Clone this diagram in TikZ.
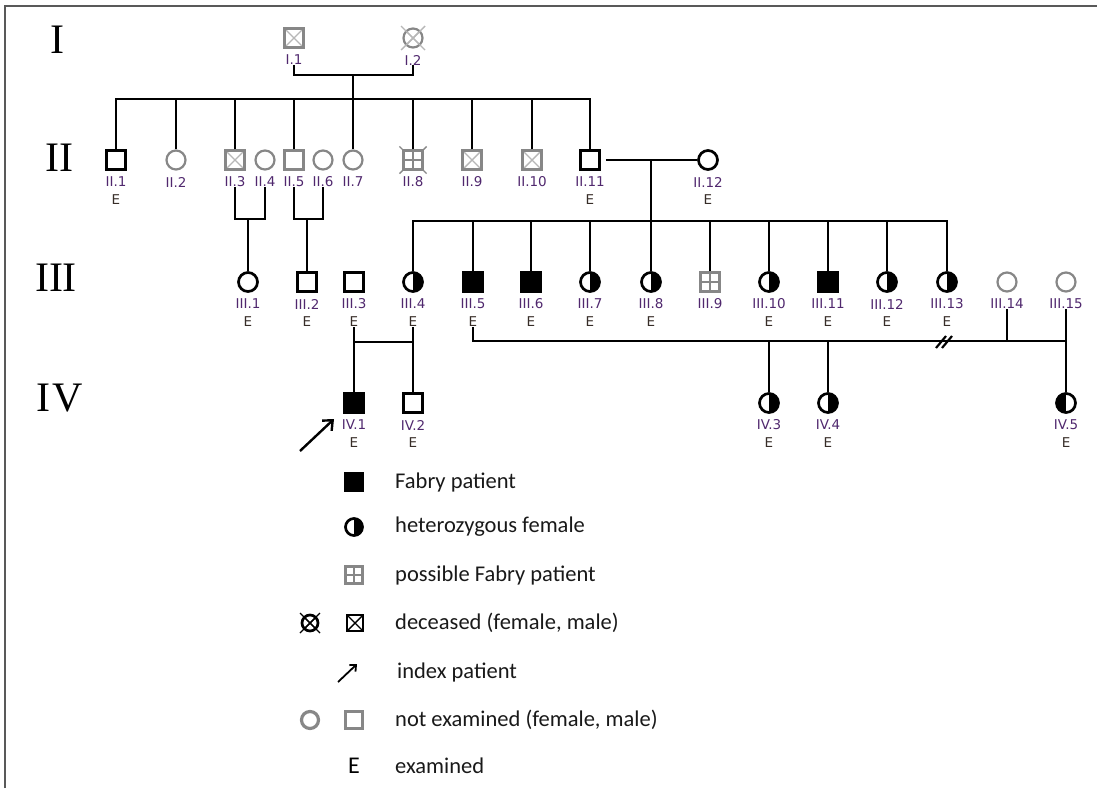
\documentclass[tikz,border=0pt]{standalone}
\usepackage{fontspec}
\usepackage{xcolor}
\usetikzlibrary{arrows.meta}

\newfontfamily\lblfont{DejaVu Sans}
\newfontfamily\legfont{Carlito}
\newfontfamily\genfont{Liberation Serif}

\definecolor{idcol}{RGB}{80,40,110}
\definecolor{excol}{RGB}{55,45,40}
\definecolor{notex}{RGB}{135,135,135}

% one person: symbol and its number below
\newcommand{\pers}[5]{%
  \node[#4] (#1) at (#2,#3) {};
  \node[idlbl] (#1-l) at ({#2},{#3+22}) {#5};}
% examined person: adds the E
\newcommand{\persE}[5]{%
  \pers{#1}{#2}{#3}{#4}{#5}
  \node[exlbl] (#1-e) at ({#2},{#3+40}) {E};}

\begin{document}
\begin{tikzpicture}[x=1pt, y=-1pt,
    pline/.style={line width=2.9pt},
    sym/.style={draw, line width=2.7pt, minimum size=19pt, inner sep=0pt, fill=white},
    male/.style={sym, rectangle},
    female/.style={sym, circle},
    notexam/.style={draw=notex, line width=2.2pt},
    ill/.style={fill=black},
    het/.style={path picture={\fill[black] (path picture bounding box.north) rectangle (path picture bounding box.south east);}},
    hetl/.style={path picture={\fill[black] (path picture bounding box.north) rectangle (path picture bounding box.south west);}},
    dead/.style={path picture={\draw[#1, line width=1.4pt] (path picture bounding box.north west) -- (path picture bounding box.south east) (path picture bounding box.north east) -- (path picture bounding box.south west);}},
    dead/.default={notex!60},
    gridsq/.style={path picture={\draw[notex, line width=1.8pt] (path picture bounding box.north) -- (path picture bounding box.south) (path picture bounding box.west) -- (path picture bounding box.east);}},
    idlbl/.style={font=\lblfont\fontsize{13.5}{14}\selectfont, text=idcol, inner sep=0pt},
    exlbl/.style={font=\lblfont\fontsize{13.5}{14}\selectfont, text=excol, inner sep=0pt},
    gen/.style={font=\genfont\fontsize{42}{42}\selectfont},
    leg/.style={font=\legfont\fontsize{22.5}{24}\selectfont, anchor=west, inner sep=0pt, text=black!90}]

    \useasboundingbox (0,0) rectangle (1097,788);
    % frame of the screenshot
    \draw[black!65, line width=2pt] (5,788) -- (5,6) -- (1097,6);

    % generations
    \node[gen] (g1) at (57,40) {I};
    \node[gen] (g2) at (59,158) {II};
    \node[gen] (g3) at (56,278) {III};
    \node[gen] (g4) at (60,398) {I\hspace{2pt}V};

    % generation I
    \pers{I1}{294}{38}{male, notexam, dead}{I.1}
    \pers{I2}{413}{38}{female, notexam, dead}{I.2}
    \draw[notex!60, line width=1.4pt] (I2) ++(-12,-12) -- ++(24,24) (I2) ++(12,-12) -- ++(-24,24);

    % generation II
    \persE{II1}{116}{160}{male}{II.1}
    \pers{II2}{176}{160}{female, notexam}{II.2}
    \pers{II3}{235}{160}{male, notexam, dead}{II.3}
    \pers{II4}{265}{160}{female, notexam}{II.4}
    \pers{II5}{294}{160}{male, notexam}{II.5}
    \pers{II6}{323}{160}{female, notexam}{II.6}
    \pers{II7}{353}{160}{female, notexam}{II.7}
    \pers{II8}{413}{160}{male, notexam, gridsq}{II.8}
    \draw[notex, line width=1.4pt] (II8.north west) -- ++(-3,-3) (II8.north east) -- ++(3,-3)
        (II8.south west) -- ++(-3,3) (II8.south east) -- ++(3,3);
    \pers{II9}{472}{160}{male, notexam, dead}{II.9}
    \pers{II10}{532}{160}{male, notexam, dead}{II.10}
    \persE{II11}{590}{160}{male}{II.11}
    \persE{II12}{708}{160}{female}{II.12}

    \coordinate (mI) at (353,75);
    \coordinate (sII) at (353,99);
    \draw[pline] (I1-l.south) |- (mI) -| (I2-l.south);
    \draw[pline] (mI) -- (II7.north);
    \draw[pline] (II1.north) |- (sII) -| (II11.north);
    \foreach \k in {II2,II3,II5,II8,II9,II10}
        \draw[pline] (\k.north) -- (\k |- sII);

    % generation III
    \persE{III1}{248}{282}{female}{III.1}
    \persE{III2}{307}{282}{male}{III.2}
    \persE{III3}{354}{282}{male}{III.3}
    \persE{III4}{413}{282}{female, het}{III.4}
    \persE{III5}{473}{282}{male, ill}{III.5}
    \persE{III6}{531}{282}{male, ill}{III.6}
    \persE{III7}{590}{282}{female, het}{III.7}
    \persE{III8}{651}{282}{female, het}{III.8}
    \pers{III9}{710}{282}{male, notexam, gridsq}{III.9}
    \persE{III10}{769}{282}{female, het}{III.10}
    \persE{III11}{828}{282}{male, ill}{III.11}
    \persE{III12}{887}{282}{female, het}{III.12}
    \persE{III13}{947}{282}{female, het}{III.13}
    \pers{III14}{1007}{282}{female, notexam}{III.14}
    \pers{III15}{1066}{282}{female, notexam}{III.15}

    \coordinate (uA) at (248,219);
    \draw[pline] (II3-l.south) |- (uA) -| (II4-l.south);
    \draw[pline] (uA) -- (III1.north);
    \coordinate (uB) at (307,219);
    \draw[pline] (II5-l.south) |- (uB) -| (II6-l.south);
    \draw[pline] (uB) -- (III2.north);

    \coordinate (mII) at (651,160);
    \coordinate (sIII) at (651,221);
    \draw[pline, shorten <=5pt] (II11.east) -- (II12.west);
    \draw[pline] (mII) -- (III8.north);
    \draw[pline] (III4.north) |- (sIII) -| (III13.north);
    \foreach \k in {III5,III6,III7,III9,III10,III11,III12}
        \draw[pline] (\k.north) -- (\k |- sIII);

    % generation IV
    \persE{IV1}{354}{403}{male, ill}{IV.1}
    \persE{IV2}{413}{403}{male}{IV.2}
    \persE{IV3}{769}{403}{female, het}{IV.3}
    \persE{IV4}{828}{403}{female, het}{IV.4}
    \persE{IV5}{1066}{403}{female, hetl}{IV.5}

    \coordinate (mIII) at (354,342);
    \draw[pline] (III3-e.south) -- (IV1.north);
    \draw[pline] (III4-e.south) -- (IV2.north);
    \draw[pline] (mIII) -- (mIII -| IV2);
    \coordinate (mIV) at (1066,341);
    \draw[pline] (III5-e.south) |- (mIV);
    \draw[pline] (III14-l.south) -- (III14 |- mIV);
    \draw[pline] (III15-l.south) -- (IV5.north);
    \draw[pline] (IV3.north) -- (IV3 |- mIV);
    \draw[pline] (IV4.north) -- (IV4 |- mIV);
    \coordinate (brk) at (945,341);
    \draw[line width=2.2pt] (brk) ++(-9,7) -- ++(10,-12) (brk) ++(-3,7) -- ++(10,-12);

    % index patient
    \coordinate (idx) at (300,451);
    \draw[line width=2.4pt, -{Straight Barb[length=8pt, width=14pt]}] (idx) -- ++(34,-32);

    % key
    \node[male, ill, minimum size=17pt] (k1) at (354,482) {};
    \node[leg] (t1) at (395,482) {Fabry patient};
    \node[female, het, minimum size=17pt] (k2) at (354,527) {};
    \node[leg] (t2) at (395,527) {heterozygous female};
    \node[male, notexam, gridsq, line width=2.6pt, minimum size=17pt] (k3) at (354,575) {};
    \node[leg] (t3) at (395,575) {possible Fabry patient};
    \node[female, dead=black, minimum size=16pt] (k4a) at (310,623) {};
    \draw[line width=1.3pt] (k4a) ++(-10,-10) -- ++(20,20) (k4a) ++(10,-10) -- ++(-20,20);
    \node[male, dead=black, minimum size=16pt] (k4b) at (355,623) {};
    \node[leg] (t4) at (395,623) {deceased (female, male)};
    \coordinate (k5) at (338,682);
    \draw[line width=1.8pt, -{Straight Barb[length=5pt, width=9pt]}] (k5) -- ++(19,-18);
    \node[leg] (t5) at (397,672) {index patient};
    \node[female, notexam, line width=3.2pt, minimum size=17pt] (k6a) at (310,720) {};
    \node[male, notexam, line width=2.6pt, minimum size=17pt] (k6b) at (354,720) {};
    \node[leg] (t6) at (395,720) {not examined (female, male)};
    \node[font=\legfont\fontsize{24}{24}\selectfont, inner sep=0pt] (k7) at (354,766) {E};
    \node[leg] (t7) at (395,766) {examined};
\end{tikzpicture}
\end{document}
